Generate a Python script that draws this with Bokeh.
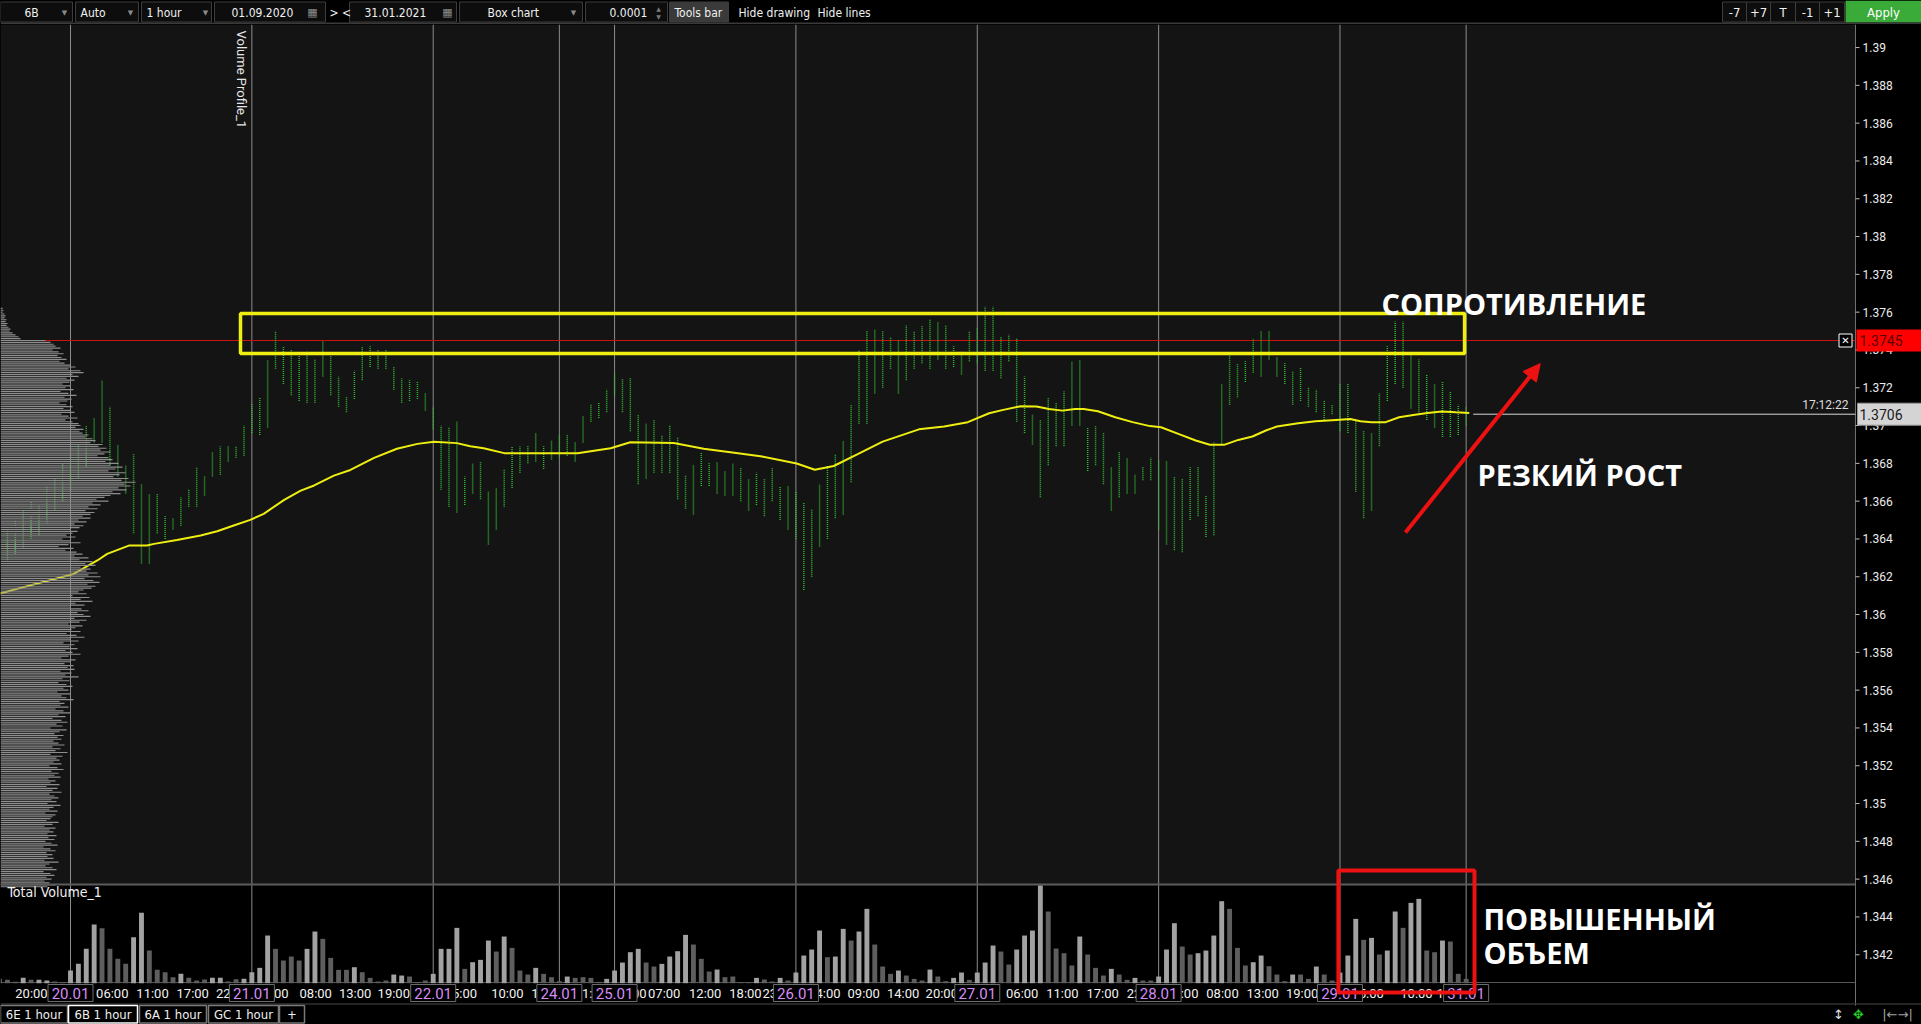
import math
from bokeh.plotting import figure
from bokeh.layouts import column
from bokeh.models import Range1d, Arrow, NormalHead, Label, GlobalInlineStyleSheet
from bokeh.core.properties import value
from bokeh.embed import file_html
from bokeh.resources import INLINE

COND = "DejaVu Sans Condensed"

# ---------------------------------------------------------------- data
first_bar = -9  # hourly bars, index 0 = first bar of 20.01 session

bar_low = [
    1.3625, 1.3628, 1.3632, 1.3635, 1.3640, 1.3642, 1.3648, 1.3655, 1.3660,
    1.3665, 1.3672, 1.3678, 1.3691, 1.3691, 1.3679, 1.3673, 1.3664, 1.3643, 1.3627,
    1.3627, 1.3643, 1.3640, 1.3645, 1.3647, 1.3657, 1.3657, 1.3663, 1.3673, 1.3674,
    1.3681, 1.3683, 1.3684,
    1.3696, 1.3695, 1.3699, 1.3730, 1.3722, 1.3716, 1.3713, 1.3712, 1.3712, 1.3726,
    1.3716, 1.3710, 1.3707, 1.3714, 1.3724, 1.3731, 1.3730, 1.3730, 1.3719, 1.3712,
    1.3713, 1.3714, 1.3708,
    1.3698, 1.3666, 1.3657, 1.3654, 1.3658, 1.3664, 1.3661, 1.3637, 1.3645, 1.3657,
    1.3667, 1.3675, 1.3680, 1.3681, 1.3677, 1.3682,
    1.3683, 1.3684, 1.3681, 1.3691, 1.3702, 1.3704, 1.3707,
    1.3716, 1.3707, 1.3697, 1.3669, 1.3672, 1.3675, 1.3675, 1.3675, 1.3661, 1.3656,
    1.3653, 1.3668, 1.3668, 1.3664, 1.3663, 1.3663, 1.3660, 1.3655, 1.3658, 1.3652, 1.3660, 1.3650, 1.3645,
    1.3640, 1.3613, 1.3620, 1.3636, 1.3640, 1.3651, 1.3653, 1.3670, 1.3701, 1.3701,
    1.3717, 1.3720, 1.3730, 1.3717, 1.3724, 1.3730, 1.3733, 1.3730, 1.3735, 1.3730, 1.3731, 1.3727, 1.3734,
    1.3733, 1.3729, 1.3729, 1.3725, 1.3734, 1.3702, 1.3696, 1.3690, 1.3662, 1.3679,
    1.3689, 1.3689, 1.3700, 1.3700, 1.3676, 1.3679, 1.3669, 1.3655, 1.3662, 1.3664, 1.3664, 1.3671, 1.3671,
    1.3645, 1.3637, 1.3634, 1.3633, 1.3650, 1.3652, 1.3641, 1.3642, 1.3690, 1.3711,
    1.3715, 1.3723, 1.3728, 1.3726, 1.3735, 1.3726, 1.3722, 1.3711, 1.3713, 1.3710, 1.3707, 1.3703, 1.3706,
    1.3697, 1.3696, 1.3665, 1.3651, 1.3655, 1.3689, 1.3713, 1.3722, 1.3720, 1.3709, 1.3707, 1.3703, 1.3699, 1.3694, 1.3694, 1.3695,
    1.3700,
]
bar_high = [
    1.3640, 1.3645, 1.3650, 1.3655, 1.3660, 1.3658, 1.3668, 1.3672, 1.3680,
    1.3685, 1.3690, 1.3700, 1.3704, 1.3724, 1.3710, 1.3690, 1.3679, 1.3685, 1.3669,
    1.3664, 1.3664, 1.3652, 1.3651, 1.3662, 1.3666, 1.3678, 1.3673, 1.3686, 1.3689,
    1.3689, 1.3689, 1.3700,
    1.3712, 1.3715, 1.3735, 1.3750, 1.3742, 1.3740, 1.3739, 1.3739, 1.3735, 1.3745,
    1.3737, 1.3726, 1.3715, 1.3729, 1.3742, 1.3742, 1.3740, 1.3740, 1.3731, 1.3725,
    1.3724, 1.3723, 1.3717,
    1.3710, 1.3700, 1.3699, 1.3702, 1.3673, 1.3680, 1.3681, 1.3665, 1.3667, 1.3677,
    1.3689, 1.3689, 1.3689, 1.3696, 1.3689, 1.3692,
    1.3695, 1.3695, 1.3691, 1.3705, 1.3711, 1.3712, 1.3719,
    1.3728, 1.3725, 1.3725, 1.3706, 1.3701, 1.3703, 1.3695, 1.3700, 1.3694, 1.3674,
    1.3679, 1.3686, 1.3680, 1.3681, 1.3676, 1.3680, 1.3678, 1.3672, 1.3675, 1.3672, 1.3678, 1.3668, 1.3668,
    1.3665, 1.3659, 1.3656, 1.3669, 1.3679, 1.3685, 1.3692, 1.3711, 1.3740, 1.3750,
    1.3751, 1.3750, 1.3747, 1.3745, 1.3753, 1.3750, 1.3753, 1.3756, 1.3755, 1.3753, 1.3742, 1.3739, 1.3750,
    1.3752, 1.3763, 1.3763, 1.3747, 1.3748, 1.3746, 1.3726, 1.3706, 1.3703, 1.3715,
    1.3712, 1.3718, 1.3734, 1.3735, 1.3699, 1.3700, 1.3696, 1.3678, 1.3686, 1.3683, 1.3674, 1.3678, 1.3683,
    1.3682, 1.3681, 1.3673, 1.3672, 1.3678, 1.3678, 1.3663, 1.3691, 1.3722, 1.3737,
    1.3733, 1.3734, 1.3746, 1.3750, 1.3750, 1.3736, 1.3733, 1.3729, 1.3731, 1.3720, 1.3719, 1.3713, 1.3711,
    1.3722, 1.3722, 1.3703, 1.3697, 1.3696, 1.3717, 1.3742, 1.3755, 1.3755, 1.3737, 1.3735, 1.3727, 1.3722, 1.3723, 1.3718, 1.3711,
    1.3710,
]
volume = [
    130, 100, 40, 160, 100, 100, 80, 50, 20,
    380, 580, 1030, 1760, 1650, 1030, 730, 580, 1380, 2110, 980, 400, 330, 180, 280, 160, 80, 110, 160, 160, 50, 120, 130,
    330, 460, 1430, 1030, 680, 800, 680, 1030, 1550, 1330, 760, 400, 400, 480, 330, 160, 50, 80, 260, 230, 200, 30, 80,
    280, 1030, 1030, 1660, 430, 630, 700, 1280, 950, 1400, 1060, 380, 260, 460, 280, 180,
    60, 200, 160, 180, 160, 40, 130,
    380, 620, 930, 1030, 620, 500, 580, 800, 960, 1450, 1160, 730, 350, 410, 180, 200, 10, 20, 160, 110, 50, 160, 80,
    320, 830, 1010, 1580, 780, 800, 1630, 1280, 1550, 2230, 1160, 500, 280, 380, 230, 130, 80, 410, 200, 60, 160, 320, 100,
    320, 620, 1130, 950, 560, 1010, 1430, 1580, 2930, 2150, 1040, 900, 530, 1400, 860, 460, 230, 430, 260, 100, 160, 80, 80,
    200, 1010, 1800, 1100, 860, 900, 980, 1430, 2460, 2230, 1060, 530, 630, 830, 510, 260, 60, 260, 260, 130, 500, 260, 80,
    320, 830, 1930, 1300, 1360, 860, 980, 2150, 1660, 2410, 2530, 980, 930, 1280, 1250, 280,
    130,
]
vol_up = [
    0, 0, 0, 1, 0, 1, 1, 0, 0,
    1, 1, 1, 1, 0, 0, 0, 0, 1, 1, 0, 0, 0, 0, 1, 0, 0, 0, 1, 1, 0, 0, 1,
    1, 1, 1, 0, 0, 0, 0, 1, 1, 0, 0, 0, 0, 1, 0, 0, 0, 0, 1, 1, 0, 0, 0,
    1, 1, 1, 1, 0, 1, 1, 1, 0, 1, 0, 0, 0, 1, 0, 0,
    0, 1, 0, 0, 0, 0, 1,
    1, 1, 1, 1, 0, 0, 1, 1, 1, 1, 0, 0, 0, 1, 0, 0, 0, 0, 1, 0, 0, 1, 0,
    1, 1, 1, 1, 0, 1, 1, 0, 1, 1, 0, 0, 0, 1, 0, 0, 0, 1, 0, 0, 1, 1, 0,
    1, 1, 1, 0, 0, 1, 1, 1, 1, 0, 0, 0, 0, 1, 0, 0, 0, 1, 0, 0, 1, 0, 0,
    1, 1, 1, 0, 0, 1, 1, 1, 1, 0, 0, 0, 1, 1, 0, 0, 0, 1, 0, 0, 1, 0, 0,
    1, 1, 1, 0, 1, 0, 1, 1, 0, 1, 1, 0, 0, 1, 0, 0,
    0,
]

# moving average (yellow), read at these bar positions
ma_x = [-8.9, -6.8, 0.4, 3.4, 4.65, 7.4, 9.7, 10.6, 13.5, 16.5, 18.6, 20.7, 22.8, 24.5, 27.1,
        29.2, 30.9, 33.4, 35.5, 38.5, 41.4, 44.0, 46.1, 49.0, 50.7, 52.4, 55.0, 64.3, 68.5,
        71.0, 76.5, 80.3, 83.7, 87.5, 92.1, 94.4, 96.8, 99.9, 103.0, 107.6, 110.8, 113.8,
        116.5, 118.3, 120.5, 122.5, 124.1, 125.8, 127.4, 128.5, 130.3, 132.5, 134.7, 136.9,
        138.3, 140.5, 142.7, 144.5, 146.3, 148.1, 149.9, 151.6, 153.0, 155.7, 157.9, 160.5,
        162.3, 163.6, 165.0, 166.8, 168.5, 170.3, 172.1, 173.9, 175.7, 177.4]
ma_y = [1.36111, 1.36136, 1.36215, 1.36286, 1.36321, 1.36365, 1.36365, 1.36374, 1.36395,
        1.36418, 1.36441, 1.36471, 1.36501, 1.36533, 1.36607, 1.36656, 1.36683, 1.36735,
        1.36765, 1.36829, 1.36877, 1.36903, 1.36914, 1.36907, 1.36891, 1.36880, 1.36854,
        1.36854, 1.36880, 1.36912, 1.36908, 1.36877, 1.36859, 1.36838, 1.36799, 1.36766,
        1.36786, 1.36850, 1.36915, 1.36980, 1.36995, 1.37018, 1.37065, 1.37083, 1.37102,
        1.37101, 1.37088, 1.37079, 1.37088, 1.37088, 1.37076, 1.37044, 1.37018, 1.36997,
        1.36991, 1.36956, 1.36921, 1.36898, 1.36898, 1.36924, 1.36942, 1.36974, 1.36995,
        1.37012, 1.37023, 1.37030, 1.37035, 1.37023, 1.37018, 1.37018, 1.37044, 1.37056,
        1.37067, 1.37074, 1.37070, 1.37067]

# volume profile, one row per 0.0001 from 1.3762 downwards
profile_top = 1.3762
profile_vol = [
    2, 3, 2, 4, 5, 4, 6, 5, 7, 6,
    8, 10, 9, 12, 15, 18, 20, 45, 50, 53,
    55, 60, 52, 58, 63, 57, 61, 66, 59, 64,
    70, 75, 68, 80, 83, 72, 78, 66, 74, 69,
    62, 70, 65, 73, 60, 68, 76, 64, 71, 67,
    59, 66, 72, 63, 70, 74, 61, 68, 77, 65,
    72, 78, 80, 75, 83, 79, 82, 88, 85, 92,
    95, 90, 102, 98, 106, 100, 110, 104, 97, 108,
    112, 105, 118, 110, 122, 115, 108, 125, 119, 113,
    128, 121, 135, 124, 130, 118, 126, 112, 120, 110,
    104, 96, 108, 92, 100, 88, 97, 85, 94, 90,
    82, 90, 78, 86, 74, 83, 79, 70, 77, 72,
    66, 75, 62, 70, 80, 68, 58, 73, 65, 76,
    82, 74, 88, 79, 92, 85, 95, 80, 90, 86,
    97, 88, 100, 84, 93, 99, 87, 95, 91, 83,
    78, 86, 72, 89, 80, 92, 75, 84, 70, 81,
    88, 77, 83, 90, 74, 86, 79, 68, 82, 75,
    71, 80, 66, 76, 84, 70, 78, 63, 74, 69,
    77, 65, 72, 80, 68, 61, 75, 70, 64, 73,
    67, 74, 60, 71, 65, 78, 62, 69, 58, 66,
    72, 63, 68, 57, 70, 61, 66, 73, 59, 64,
    60, 68, 55, 63, 70, 58, 65, 52, 61, 67,
    56, 62, 50, 66, 59, 54, 63, 57, 61, 53,
    58, 64, 52, 60, 55, 67, 50, 62, 56, 59,
    53, 61, 49, 57, 63, 51, 58, 54, 60, 48,
    55, 50, 59, 46, 57, 52, 61, 49, 54, 58,
    51, 56, 47, 60, 53, 49, 57, 45, 55, 52,
    50, 46, 58, 52, 44, 55, 49, 53, 47, 56,
    48, 54, 45, 51, 57, 43, 50, 55, 46, 52,
    47, 53, 44, 58, 49, 45, 52, 56, 43, 50,
    54, 46, 51, 44, 49, 55, 47,
]

session_idx = [0, 23, 46, 62, 69, 92, 115, 138, 161, 177]
session_lbl = ["20.01", "21.01", "22.01", "24.01", "25.01", "26.01", "27.01", "28.01", "29.01", "31.01"]

time_tick_pos = [-4.95, 5.3, 10.4, 15.5, 20.5, 25.6, 31.1, 36.1, 41.0, 49.5, 55.4, 60.5, 66.0,
                 71.0, 75.3, 80.5, 85.6, 89.8, 95.6, 100.6, 105.6, 110.5, 120.7, 125.8, 130.9,
                 136.0, 141.0, 146.1, 151.2, 156.2, 164.5, 170.7, 175.3]
time_tick_lbl = ["20:00", "06:00", "11:00", "17:00", "22:00", "03:00", "08:00", "13:00", "19:00",
                 "05:00", "10:00", "15:00", "21:00", "02:00", "07:00", "12:00", "18:00", "23:00",
                 "04:00", "09:00", "14:00", "20:00", "06:00", "11:00", "17:00", "22:00", "03:00",
                 "08:00", "13:00", "19:00", "05:00", "10:00", "15:00"]

price_ticks = [1.342, 1.344, 1.346, 1.348, 1.35, 1.352, 1.354, 1.356, 1.358, 1.36, 1.362, 1.364,
               1.366, 1.368, 1.37, 1.372, 1.374, 1.376, 1.378, 1.38, 1.382, 1.384, 1.386, 1.388, 1.39]
price_tick_lbl = ["1.342", "1.344", "1.346", "1.348", "1.35", "1.352", "1.354", "1.356", "1.358",
                  "1.36", "1.362", "1.364", "1.366", "1.368", "1.37", "1.372", "1.374", "1.376",
                  "1.378", "1.38", "1.382", "1.384", "1.386", "1.388", "1.39"]

resistance_level = 1.3745
last_price = 1.3706
last_time = "17:12:22"
zone_top, zone_bottom = 1.37593, 1.37381
zone_left, zone_right = 21.56, 176.8

n_bars = len(bar_low)
assert len(bar_high) == n_bars and len(volume) == n_bars and len(vol_up) == n_bars
assert len(ma_x) == len(ma_y)
assert len(time_tick_pos) == len(time_tick_lbl)
assert len(price_ticks) == len(price_tick_lbl)
bar_idx = [first_bar + k for k in range(n_bars)]
profile_price = [round(profile_top - 0.0001 * k, 4) for k in range(len(profile_vol))]

# ---------------------------------------------------------------- geometry (screen layout)
PX_BAR = 7.885          # pixels per hourly bar
PX_PRICE = 18900.0      # pixels per price unit
X_MIN, X_AXIS, X_MAX = -8.878, 226.38, 234.75    # left edge, price-axis line, right edge
Y_MIN, Y_AXIS, Y_PANE, Y_TOP = 1.33942, 1.34053, 1.34571, 1.39122
FRAME_H = 979
VOL_PER_PX = 30.0
VOL_BASE_PX = 20.3      # volume baseline height above bottom of chart figure

def dx(px):
    return px / PX_BAR

def dy(px):
    return px / PX_PRICE

BG = "#141414"
GREEN = "#34b834"
RED = "#ee1111"
YELLOW = "#eeee10"

# ---------------------------------------------------------------- toolbar
tb = figure(width=1921, height=24, x_range=Range1d(0, 1921), y_range=Range1d(24, 0),
            toolbar_location=None, output_backend="svg", min_border=0,
            x_axis_location=None, y_axis_location=None,
            background_fill_color="#000000", border_fill_color="#000000", outline_line_color=None)
tb.grid.visible = False
tb_box_x0 = [0, 75, 141, 214, 349, 459, 585, 669]
tb_box_x1 = [72, 138, 211, 325, 456, 582, 667, 728]
tb_box_fill = ["#0d0d0d"] * 7 + ["#3a3a3a"]
tb.quad(left=tb_box_x0, right=tb_box_x1, top=[1.5] * 8, bottom=[21.5] * 8,
        fill_color=tb_box_fill, line_color="#3d3d3d", line_width=1)
tb_text = ["6B", "Auto", "1 hour", "01.09.2020", "> <", "31.01.2021", "Box chart", "0.0001",
           "Tools bar", "Hide drawing", "Hide lines"]
tb_text_x = [24, 80, 146, 231, 329, 364, 487, 609, 674, 738, 817]
tb.text(x=tb_text_x, y=[12] * len(tb_text), text=tb_text, text_font=value(COND),
        text_font_size="12px", text_color="#f0f0f0", text_baseline="middle", text_align="left")
tb.text(x=[64, 130, 205, 573], y=[12] * 4, text=["▼"] * 4, text_font=value("DejaVu Sans"),
        text_font_size="7px", text_color="#8a8a8a", text_baseline="middle", text_align="center")
tb.text(x=[312, 447], y=[12, 12], text=["▦", "▦"], text_font=value("DejaVu Sans"),
        text_font_size="11px", text_color="#8a8a8a", text_baseline="middle", text_align="center")
tb.text(x=[658, 658], y=[8, 16], text=["▲", "▼"], text_font=value("DejaVu Sans"),
        text_font_size="6px", text_color="#7a7a7a", text_baseline="middle", text_align="center")
rb_x0 = [1722, 1746, 1770, 1795, 1819]
rb_x1 = [1746, 1770, 1795, 1819, 1844]
rb_lbl = ["-7", "+7", "T", "-1", "+1"]
tb.quad(left=rb_x0, right=rb_x1, top=[1.5] * 5, bottom=[21.5] * 5,
        fill_color="#0d0d0d", line_color="#3d3d3d")
tb.text(x=[(a + b) / 2 for a, b in zip(rb_x0, rb_x1)], y=[12] * 5, text=rb_lbl,
        text_font=value(COND), text_font_size="13px", text_color="#f0f0f0",
        text_baseline="middle", text_align="center")
tb.quad(left=[1845], right=[1921], top=[0], bottom=[22], fill_color="#3aaa38", line_color=None)
tb.text(x=[1883], y=[12], text=["Apply"], text_font=value(COND), text_font_size="13px",
        text_color="#ffffff", text_baseline="middle", text_align="center")
tb.segment(x0=[0], y0=[23], x1=[1921], y1=[23], line_color="#3a3a3a", line_width=2)

# ---------------------------------------------------------------- main chart (price + volume + axes)
p = figure(width=1921, height=FRAME_H, x_range=Range1d(X_MIN, X_MAX), y_range=Range1d(Y_MIN, Y_TOP),
           toolbar_location=None, output_backend="svg", min_border=0,
           x_axis_location=None, y_axis_location=None,
           background_fill_color="#000000", border_fill_color="#000000", outline_line_color=None)
p.grid.visible = False
p.extra_y_ranges = {"vol": Range1d(-VOL_PER_PX * VOL_BASE_PX, VOL_PER_PX * (FRAME_H - VOL_BASE_PX))}
p.extra_x_ranges = {"prof": Range1d(0, 1921.0)}

# price pane background
p.quad(left=[X_MIN], right=[X_AXIS], bottom=[Y_PANE], top=[Y_TOP], fill_color=BG, line_color=None)
# session lines
p.segment(x0=session_idx, x1=session_idx, y0=[Y_AXIS] * len(session_idx),
          y1=[Y_TOP] * len(session_idx), line_color="#8c8c8c", line_width=1)
# resistance level line
p.segment(x0=[X_MIN], x1=[X_AXIS], y0=[resistance_level], y1=[resistance_level],
          line_color="#d01010", line_width=1)
# box-chart bars (dotted columns)
p.segment(x0=bar_idx, x1=bar_idx, y0=bar_low, y1=bar_high, line_color=GREEN,
          line_width=1.5, line_dash="1 1")
# moving average
p.line(ma_x, ma_y, line_color=YELLOW, line_width=2)
# volume profile
p.hbar(y=profile_price, left=0, right=profile_vol, height=0.00006, x_range_name="prof",
       fill_color="#8e8e8e", line_color=None)
# pane separator and axis lines
p.segment(x0=[X_MIN], x1=[X_AXIS], y0=[Y_PANE], y1=[Y_PANE], line_color="#5c5c5c", line_width=2)
p.segment(x0=[X_MIN], x1=[X_AXIS], y0=[Y_AXIS], y1=[Y_AXIS], line_color="#5a5a5a", line_width=1)
p.segment(x0=[X_AXIS], x1=[X_AXIS], y0=[Y_MIN], y1=[Y_TOP], line_color="#707070", line_width=1)
# volume bars
vol_colors = ["#a2a2a2" if u else "#5e5e5e" for u in vol_up]
p.vbar(x=bar_idx, top=volume, bottom=0, width=0.62, y_range_name="vol",
       fill_color=vol_colors, line_color=None)
# last price line
p.segment(x0=[177.9], x1=[X_AXIS], y0=[last_price], y1=[last_price],
          line_color="#d8d8d8", line_width=1)
# resistance zone
p.quad(left=[zone_left], right=[zone_right], top=[zone_top], bottom=[zone_bottom],
       fill_color=None, line_color=YELLOW, line_width=3.5)

# price axis: ticks and labels
p.segment(x0=[X_AXIS] * len(price_ticks), x1=[X_AXIS + dx(4)] * len(price_ticks),
          y0=price_ticks, y1=price_ticks, line_color="#bdbdbd", line_width=1)
p.text(x=[X_AXIS + dx(7)] * len(price_ticks), y=price_ticks, text=price_tick_lbl,
       text_font=value("Roboto"), text_font_size="12px", text_color="#ececec",
       text_baseline="middle", text_align="left")
# time axis labels
time_y = Y_AXIS - dy(11)
p.text(x=time_tick_pos, y=[time_y] * len(time_tick_pos), text=time_tick_lbl,
       text_font=value("Roboto"), text_font_size="13px", text_color="#f2f2f2",
       text_baseline="middle", text_align="center")
# date boxes
p.quad(left=[s - dx(22.5) for s in session_idx], right=[s + dx(22.5) for s in session_idx],
       top=[Y_AXIS - dy(2)] * len(session_idx), bottom=[Y_AXIS - dy(19)] * len(session_idx),
       fill_color="#000000", line_color="#6e6e6e", line_width=1)
p.text(x=session_idx, y=[Y_AXIS - dy(10.5)] * len(session_idx), text=session_lbl,
       text_font=value("Roboto"), text_font_size="15px", text_color="#d68cf7",
       text_baseline="middle", text_align="center")

# price boxes on the price axis
p.quad(left=[X_AXIS + dx(1)], right=[X_MAX], top=[resistance_level + dy(11)],
       bottom=[resistance_level - dy(11)], fill_color="#ff0000", line_color=None)
p.text(x=[X_AXIS + dx(4)], y=[resistance_level], text=["1.3745"], text_font=value("Roboto"),
       text_font_size="14px", text_color="#5a0000", text_baseline="middle", text_align="left")
p.quad(left=[X_AXIS + dx(2)], right=[X_MAX], top=[last_price + dy(11)],
       bottom=[last_price - dy(11)], fill_color="#d4d4d4", line_color="#9a9a9a")
p.text(x=[X_AXIS + dx(4)], y=[last_price], text=["1.3706"], text_font=value("Roboto"),
       text_font_size="14px", text_color="#1a1a1a", text_baseline="middle", text_align="left")
# close icon and time stamp
close_x = X_AXIS - dx(10)
p.quad(left=[close_x - dx(6.5)], right=[close_x + dx(6.5)], top=[resistance_level + dy(6.5)],
       bottom=[resistance_level - dy(6.5)], fill_color="#000000", line_color="#ffffff")
p.text(x=[close_x], y=[resistance_level], text=["✕"], text_font=value("DejaVu Sans"),
       text_font_size="10px", text_color="#ffffff", text_baseline="middle", text_align="center")
p.text(x=[X_AXIS - dx(7)], y=[last_price + dy(2)], text=[last_time], text_font=value("Roboto"),
       text_font_size="12px", text_color="#dcdcdc", text_baseline="bottom", text_align="right")

# pane captions
p.add_layout(Label(x=-7.99, y=1.34532, text="Total Volume_1", text_font=COND,
                   text_font_size="14px", text_color="#f0f0f0", text_baseline="alphabetic"))
p.add_layout(Label(x=21.69, y=1.3909, text="Volume Profile_1", angle=-math.pi / 2,
                   text_font="Roboto", text_font_size="13px", text_color="#e6e6e6",
                   text_align="left", text_baseline="middle"))

# annotations
p.quad(left=[160.8], right=[178.06], top=[1.34646], bottom=[1.3400],
       fill_color=None, line_color=RED, line_width=4)
p.add_layout(Arrow(end=NormalHead(size=17, fill_color=RED, line_color=RED),
                   x_start=169.3, y_start=1.36434, x_end=186.4, y_end=1.37328,
                   line_color=RED, line_width=4))
for txt, tx, ty in [("СОПРОТИВЛЕНИЕ", 166.27, 1.37646), ("РЕЗКИЙ РОСТ", 178.44, 1.36741),
                    ("ПОВЫШЕННЫЙ", 179.2, 1.34392), ("ОБЪЕМ", 179.2, 1.34212)]:
    p.add_layout(Label(x=tx, y=ty, text=txt, text_font="Open Sans", text_font_style="bold",
                       text_font_size="29px", text_color="#ffffff", text_baseline="alphabetic",
                       text_align="left"))

# ---------------------------------------------------------------- tabs strip
tabs = figure(width=1921, height=21, x_range=Range1d(0, 1921), y_range=Range1d(21, 0),
              toolbar_location=None, output_backend="svg", min_border=0,
              x_axis_location=None, y_axis_location=None,
              background_fill_color="#000000", border_fill_color="#000000", outline_line_color=None)
tabs.grid.visible = False
tab_x0 = [0, 68, 139, 208, 279]
tab_x1 = [67, 137, 206, 278, 304]
tab_lbl = ["6E 1 hour", "6B 1 hour", "6A 1 hour", "GC 1 hour", "+"]
tab_border = ["#7a7a7a", "#ffffff", "#7a7a7a", "#7a7a7a", "#7a7a7a"]
tabs.segment(x0=[0], y0=[0], x1=[1921], y1=[0], line_color="#4a4a4a", line_width=2)
tabs.quad(left=tab_x0, right=tab_x1, top=[2] * 5, bottom=[19.5] * 5, fill_color="#000000",
          line_color=tab_border, line_width=1.5)
tabs.text(x=[(a + b) / 2 for a, b in zip(tab_x0, tab_x1)], y=[11] * 5, text=tab_lbl,
          text_font=value(COND), text_font_size="13px", text_color="#f0f0f0",
          text_baseline="middle", text_align="center")
tabs.text(x=[1838, 1858, 1897], y=[11, 11, 11], text=["↕", "✥", "|←→|"],
          text_font=value("DejaVu Sans"), text_font_size="13px",
          text_color=["#e0e0e0", "#22cc22", "#a0a0a0"], text_baseline="middle",
          text_align="center")
tabs.segment(x0=[1855], y0=[0], x1=[1855], y1=[2], line_color="#707070")

layout = column(tb, p, tabs, spacing=0)
layout.stylesheets = [GlobalInlineStyleSheet(
    css="html, body { margin: 0 !important; padding: 0; background: #000000; overflow: hidden; }")]

open("out.html", "w").write(file_html(layout, INLINE))
